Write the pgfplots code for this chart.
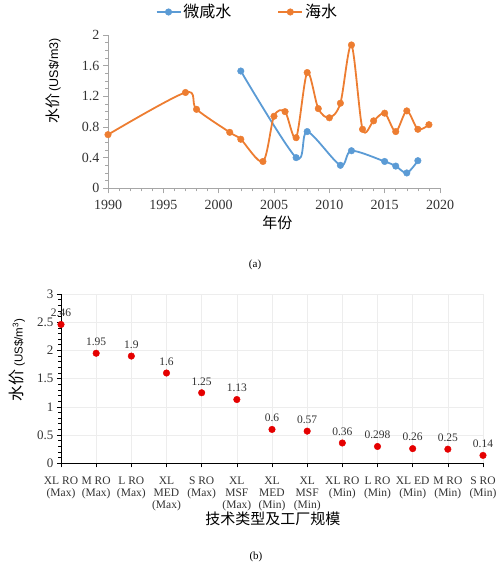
\documentclass[border=0pt]{standalone}
\usepackage{pgfplots}
\pgfplotsset{compat=1.18}
\usepackage{fontspec}
\setmainfont{Liberation Serif}
\setsansfont{Liberation Sans}
\newfontfamily\tnr{Liberation Serif}
\newfontfamily\cjk{Noto Sans CJK SC}
\definecolor{xblue}{HTML}{5B9BD5}
\definecolor{xorange}{HTML}{ED7D31}
\definecolor{agray}{HTML}{A6A6A6}
\begin{document}
\begin{tikzpicture}
\path[use as bounding box] (0,0) rectangle (500pt,570pt);
% ---------- (a) ----------
\begin{axis}[
  scale only axis, anchor=south west, at={(108pt,381.7pt)},
  width=332pt, height=153.3pt,
  xmin=1990, xmax=2020, ymin=0, ymax=2,
  xtick={1990,1995,...,2020}, ytick={0,0.4,0.8,1.2,1.6,2},
  minor x tick num=4, minor y tick num=3,
  axis lines=left, axis line style={-, agray, line width=0.8pt},
  tick align=outside, tick style={agray, line width=0.6pt},
  major tick length=5pt, minor tick length=3pt,
  /pgf/number format/1000 sep={},
  /pgf/number format/assume math mode=true,
  ticklabel style={font=\tnr\fontsize{14}{14}\selectfont, text=black!80},
  xticklabel style={yshift=-3pt},
  yticklabel style={/pgf/number format/fixed},
  xlabel={\cjk 年份},
  xlabel style={at={(axis description cs:0.51,-0.226)}, anchor=center, font=\fontsize{15}{15}\selectfont},
  ylabel={{\cjk\fontsize{15}{15}\selectfont 水价}\ {\sffamily\fontsize{12.5}{12.5}\selectfont (US\$/m3)}},
  ylabel style={at={(axis description cs:-0.165,0.70)}, anchor=center},
  legend style={at={(axis description cs:0.42,1.15)}, anchor=center, draw=none,
    font=\cjk\fontsize{16}{16}\selectfont, /tikz/every even column/.append style={column sep=44pt}},
  legend columns=2,
  legend image code/.code={\draw[mark repeat=2,mark phase=2] plot coordinates {(0pt,0pt) (12pt,0pt) (24pt,0pt)};},
  every axis plot/.append style={line width=1.8pt, smooth, tension=0.5},
  clip=false,
]
\addplot[xblue, mark=*, mark size=3.3pt, mark options={solid, line width=0.4pt, draw=xblue, fill=xblue}] coordinates {
 (2002,1.53) (2007,0.40) (2008,0.74) (2011,0.30) (2012,0.49) (2015,0.35) (2016,0.29) (2017,0.20) (2018,0.36)};
\addlegendentry{微咸水}
\addplot[xorange, mark=*, mark size=3.3pt, mark options={solid, line width=0.4pt, draw=xorange, fill=xorange}] coordinates {
 (1990,0.70) (1997,1.25) (1998,1.03) (2001,0.73) (2002,0.64) (2004,0.35) (2005,0.94) (2006,1.00)
 (2007,0.66) (2008,1.51) (2009,1.04) (2010,0.92) (2011,1.11) (2012,1.87) (2013,0.77) (2014,0.88)
 (2015,0.98) (2016,0.74) (2017,1.01) (2018,0.77) (2019,0.83)};
\addlegendentry{海水}
\node[font=\tnr\fontsize{11}{11}\selectfont] at (axis description cs:0.443,-0.502) {(a)};
\end{axis}
% ---------- (b) ----------
\begin{axis}[
  scale only axis, anchor=south west, at={(61pt,106.7pt)},
  width=422pt, height=169.3pt,
  xmin=0, xmax=12, ymin=0, ymax=3,
  xtick={0,...,12}, ytick={0,0.5,...,3},
  yticklabels={0,0.5,1,1.5,2,2.5,3},
  xticklabels={{XL RO\\(Max)},{M RO\\(Max)},{L RO\\(Max)},{XL\\MED\\(Max)},{S RO\\(Max)},{XL\\MSF\\(Max)},{XL\\MED\\(Min)},{XL\\MSF\\(Min)},{XL RO\\(Min)},{L RO\\(Min)},{XL ED\\(Min)},{M RO\\(Min)},{S RO\\(Min)}},
  xticklabel style={align=center, font=\tnr\fontsize{11.5}{12}\selectfont, text=black!80, yshift=-6pt},
  yticklabel style={font=\tnr\fontsize{13}{13}\selectfont, text=black!80},
  minor y tick num=4,
  axis lines=left, axis line style={-, black, line width=0.8pt},
  tick align=outside, tick style={black, line width=0.6pt},
  major tick length=4pt, minor tick length=2.5pt,
  grid=major, major grid style={black!7, line width=0.5pt},
  xlabel={\cjk 技术类型及工厂规模},
  xlabel style={at={(axis description cs:0.502,-0.327)}, anchor=center, font=\fontsize{15}{15}\selectfont},
  ylabel={{\cjk\fontsize{16}{16}\selectfont 水价}\ {\sffamily\fontsize{11.5}{11.5}\selectfont (US\$/m\textsuperscript{3})}},
  ylabel style={at={(axis description cs:-0.104,0.61)}, anchor=center},
  clip=false,
]
\addplot[only marks, mark=*, mark size=3.3pt, color=red!90!black,
  point meta=explicit symbolic, nodes near coords,
  nodes near coords style={font=\tnr\fontsize{11.5}{11.5}\selectfont, text=black!80, anchor=south, yshift=4pt}]
  table[meta=lab] {
x y lab
0 2.46 2.46
1 1.95 1.95
2 1.9 1.9
3 1.6 1.6
4 1.25 1.25
5 1.13 1.13
6 0.6 0.6
7 0.57 0.57
8 0.36 0.36
9 0.298 0.298
10 0.26 0.26
11 0.25 0.25
12 0.14 0.14
};
\node[font=\tnr\fontsize{11}{11}\selectfont] at (axis description cs:0.462,-0.55) {(b)};
\end{axis}
\end{tikzpicture}
\end{document}
